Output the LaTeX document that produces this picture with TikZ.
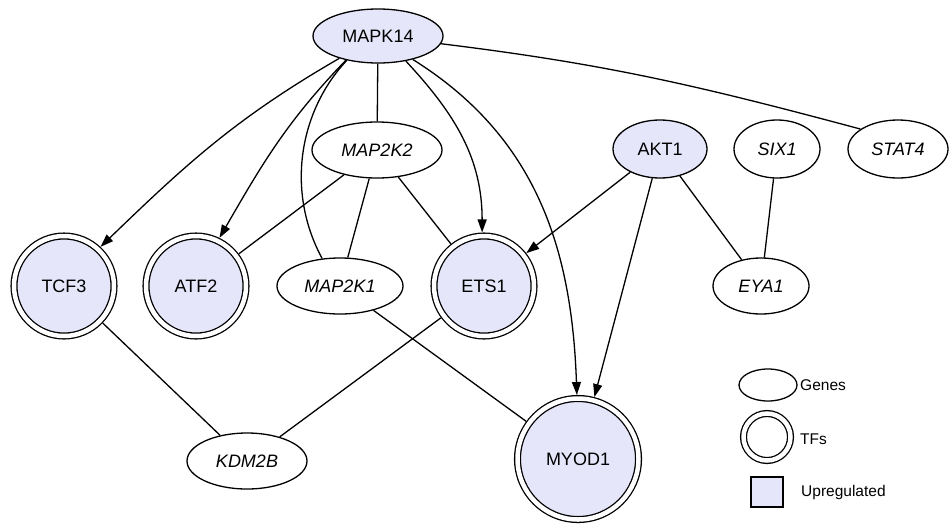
\documentclass[tikz,border=0pt]{standalone}
\usepackage{fontspec}
\setmainfont{Liberation Sans}
\usetikzlibrary{shapes.geometric,arrows.meta}
\definecolor{upreg}{RGB}{230,230,250}
\begin{document}
\begin{tikzpicture}[x=1pt,y=1pt,
  every node/.style={inner sep=0pt},
  gene/.style={ellipse,draw,line width=1.3pt,font=\fontsize{18}{20}\selectfont\itshape},
  kin/.style={ellipse,draw,line width=1.3pt,fill=upreg,font=\fontsize{18}{20}\selectfont},
  tf/.style={circle,draw,line width=1.3pt,double,double distance=4.5pt,outer sep=3.55pt,fill=upreg,font=\fontsize{18}{20}\selectfont},
  edge/.style={line width=1.3pt},
  arr/.style={line width=1.3pt,-{Triangle[length=13pt,width=9pt]}},
  legtext/.style={anchor=west,font=\fontsize{15.5}{17}\selectfont}
]
\useasboundingbox (0,0) rectangle (949,-528);

% nodes
\node[kin,minimum width=130pt,minimum height=54pt] (mapk14) at (378,-36) {MAPK14};
\node[gene,minimum width=130pt,minimum height=56pt] (map2k2) at (377,-150) {MAP2K2};
\node[kin,minimum width=94pt,minimum height=58pt] (akt1) at (660,-149) {AKT1};
\node[gene,minimum width=86pt,minimum height=58pt] (six1) at (777,-149) {SIX1};
\node[gene,minimum width=100pt,minimum height=58pt] (stat4) at (898,-149) {STAT4};
\node[tf,minimum size=100pt] (tcf3) at (64,-286) {TCF3};
\node[tf,minimum size=100pt] (atf2) at (196,-286) {ATF2};
\node[gene,minimum width=126pt,minimum height=56pt] (map2k1) at (340,-286) {MAP2K1};
\node[tf,minimum size=100pt] (ets1) at (484,-286) {ETS1};
\node[gene,minimum width=96pt,minimum height=56pt] (eya1) at (761,-286) {EYA1};
\node[gene,minimum width=120pt,minimum height=56pt] (kdm2b) at (247,-461) {KDM2B};
\node[tf,minimum size=121pt] (myod1) at (578,-459) {MYOD1};

% edges
\draw[arr] (mapk14.210) to[out=210,in=44] (tcf3.47);
\draw[arr] (mapk14.217) to[out=226,in=60] (atf2.64);
\draw[edge] (mapk14.218) .. controls (300,-110) and (285,-190) .. (map2k1.123);
\draw[edge] (mapk14) -- (map2k2);
\draw[arr] (mapk14.318) to[out=313,in=90] (ets1.92);
\draw[arr] (mapk14.326) to[out=328,in=92] (myod1.91);
\draw[edge] (mapk14.-7) to[out=-7,in=165] (stat4.152);
\draw[edge] (map2k2) -- (atf2);
\draw[edge] (map2k2) -- (map2k1);
\draw[edge] (map2k2) -- (ets1);
\draw[arr] (akt1) -- (ets1);
\draw[arr] (akt1) -- (myod1);
\draw[edge] (akt1) -- (eya1);
\draw[edge] (six1) -- (eya1);
\draw[edge] (tcf3) -- (kdm2b);
\draw[edge] (ets1) -- (kdm2b);
\draw[edge] (map2k1) -- (myod1);

% legend
\node[ellipse,draw,line width=1.3pt,minimum width=58pt,minimum height=32pt] (lgene) at (768,-385) {};
\node[legtext] (lgenet) at (800,-385) {Genes};
\node[circle,draw,line width=1.3pt,double,double distance=4.5pt,minimum size=47pt] (ltf) at (767,-437) {};
\node[legtext] (ltft) at (800,-439) {TFs};
\node[rectangle,draw,line width=1.3pt,fill=upreg,minimum width=32pt,minimum height=30pt] (lup) at (767,-492) {};
\node[legtext] (lupt) at (801,-492) {Upregulated};
\end{tikzpicture}
\end{document}
